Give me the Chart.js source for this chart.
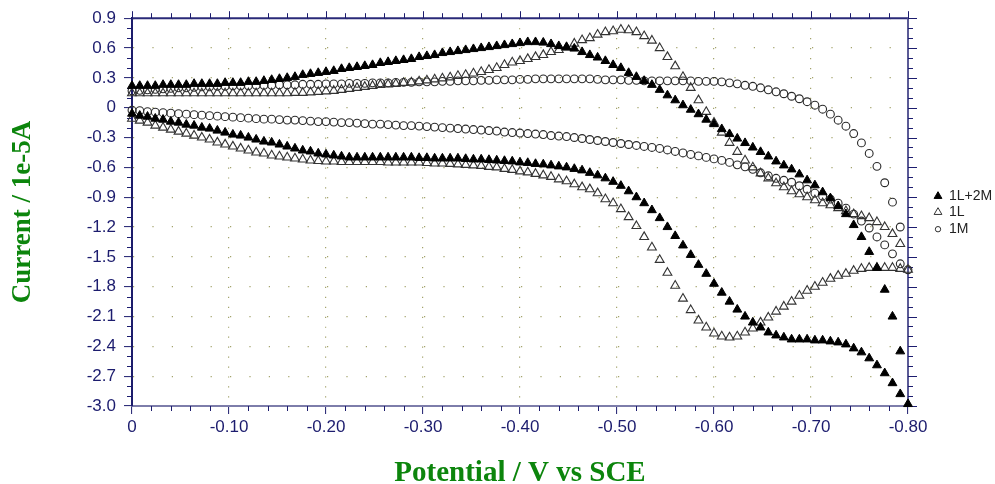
<!DOCTYPE html>
<html><head><meta charset="utf-8">
<script src="https://cdn.jsdelivr.net/npm/chart.js@4.4.1/dist/chart.umd.min.js"></script>
<style>html,body{margin:0;padding:0;background:#fff;}canvas{display:block;}</style>
</head><body>
<canvas id="c" width="995" height="484"></canvas>
<script>
// Potential (V vs SCE) of each sample
const potentials = [0,-0.008,-0.016,-0.024,-0.032,-0.04,-0.048,-0.056,-0.064,-0.072,
-0.08,-0.088,-0.096,-0.104,-0.112,-0.12,-0.128,-0.136,-0.144,-0.152,
-0.16,-0.168,-0.176,-0.184,-0.192,-0.2,-0.208,-0.216,-0.224,-0.232,
-0.24,-0.248,-0.256,-0.264,-0.272,-0.28,-0.288,-0.296,-0.304,-0.312,
-0.32,-0.328,-0.336,-0.344,-0.352,-0.36,-0.368,-0.376,-0.384,-0.392,
-0.4,-0.408,-0.416,-0.424,-0.432,-0.44,-0.448,-0.456,-0.464,-0.472,
-0.48,-0.488,-0.496,-0.504,-0.512,-0.52,-0.528,-0.536,-0.544,-0.552,
-0.56,-0.568,-0.576,-0.584,-0.592,-0.6,-0.608,-0.616,-0.624,-0.632,
-0.64,-0.648,-0.656,-0.664,-0.672,-0.68,-0.688,-0.696,-0.704,-0.712,
-0.72,-0.728,-0.736,-0.744,-0.752,-0.76,-0.768,-0.776,-0.784,-0.792,
-0.8];

// 1L+2M : cathodic (forward) sweep and anodic (reverse) sweep, current / 1e-5 A
const iL2M_fwd = [-0.06,-0.08,-0.09,-0.11,-0.12,-0.14,-0.15,-0.17,-0.18,-0.20,
-0.21,-0.23,-0.25,-0.27,-0.28,-0.30,-0.32,-0.34,-0.35,-0.37,
-0.39,-0.41,-0.43,-0.44,-0.46,-0.47,-0.48,-0.49,-0.50,-0.50,
-0.50,-0.50,-0.50,-0.50,-0.50,-0.50,-0.50,-0.505,-0.505,-0.51,
-0.51,-0.51,-0.51,-0.515,-0.52,-0.52,-0.525,-0.53,-0.535,-0.54,
-0.55,-0.555,-0.565,-0.57,-0.58,-0.59,-0.60,-0.615,-0.63,-0.655,
-0.68,-0.71,-0.745,-0.785,-0.84,-0.90,-0.96,-1.03,-1.11,-1.20,
-1.29,-1.385,-1.48,-1.58,-1.67,-1.77,-1.86,-1.95,-2.03,-2.10,
-2.16,-2.21,-2.26,-2.29,-2.31,-2.33,-2.33,-2.33,-2.34,-2.34,
-2.35,-2.36,-2.38,-2.42,-2.46,-2.52,-2.59,-2.67,-2.77,-2.88,
-2.98];
const iL2M_rev = [0.22,0.22,0.22,0.22,0.23,0.23,0.23,0.23,0.24,0.24,
0.24,0.24,0.25,0.25,0.25,0.26,0.26,0.27,0.28,0.29,
0.30,0.31,0.33,0.34,0.35,0.36,0.37,0.39,0.40,0.41,
0.42,0.43,0.45,0.46,0.47,0.48,0.49,0.51,0.52,0.53,
0.55,0.56,0.57,0.58,0.59,0.60,0.61,0.62,0.63,0.64,
0.65,0.66,0.66,0.655,0.64,0.62,0.61,0.595,0.56,0.53,
0.505,0.47,0.43,0.40,0.35,0.31,0.27,0.23,0.18,0.125,
0.075,0.025,-0.02,-0.065,-0.12,-0.165,-0.215,-0.265,-0.31,-0.355,
-0.40,-0.445,-0.49,-0.54,-0.58,-0.62,-0.67,-0.73,-0.78,-0.85,
-0.91,-0.99,-1.07,-1.18,-1.30,-1.45,-1.61,-1.83,-2.10,-2.45];

// 1L
const iL_fwd = [-0.11,-0.13,-0.15,-0.18,-0.20,-0.22,-0.24,-0.26,-0.28,-0.30,
-0.32,-0.35,-0.37,-0.39,-0.41,-0.43,-0.45,-0.46,-0.48,-0.49,
-0.50,-0.51,-0.52,-0.53,-0.535,-0.54,-0.54,-0.545,-0.545,-0.545,
-0.545,-0.545,-0.545,-0.55,-0.55,-0.55,-0.55,-0.55,-0.555,-0.56,
-0.56,-0.565,-0.57,-0.575,-0.58,-0.585,-0.595,-0.60,-0.615,-0.625,
-0.64,-0.65,-0.665,-0.68,-0.695,-0.72,-0.74,-0.77,-0.80,-0.82,
-0.86,-0.92,-0.96,-1.02,-1.10,-1.19,-1.30,-1.405,-1.53,-1.66,
-1.79,-1.92,-2.035,-2.14,-2.21,-2.27,-2.30,-2.31,-2.30,-2.26,
-2.22,-2.16,-2.11,-2.05,-2.00,-1.95,-1.89,-1.84,-1.80,-1.76,
-1.72,-1.69,-1.67,-1.64,-1.62,-1.61,-1.61,-1.61,-1.61,-1.62,
-1.63];
const iL_rev = [0.145,0.145,0.145,0.145,0.145,0.145,0.145,0.145,0.145,0.145,
0.145,0.145,0.145,0.145,0.145,0.145,0.145,0.145,0.145,0.145,
0.145,0.15,0.15,0.155,0.16,0.165,0.17,0.18,0.19,0.20,
0.21,0.22,0.23,0.235,0.24,0.25,0.255,0.265,0.275,0.285,
0.295,0.305,0.32,0.33,0.345,0.36,0.38,0.40,0.43,0.455,
0.47,0.49,0.51,0.53,0.56,0.58,0.605,0.645,0.68,0.70,
0.735,0.76,0.77,0.785,0.78,0.76,0.72,0.675,0.60,0.51,
0.417,0.31,0.20,0.075,-0.042,-0.15,-0.25,-0.353,-0.444,-0.53,
-0.60,-0.66,-0.71,-0.76,-0.80,-0.84,-0.87,-0.90,-0.93,-0.96,
-0.98,-1.01,-1.04,-1.07,-1.09,-1.11,-1.15,-1.20,-1.27,-1.37];

// 1M
const iM_fwd = [-0.025,-0.03,-0.04,-0.045,-0.05,-0.055,-0.06,-0.065,-0.07,-0.075,
-0.08,-0.085,-0.09,-0.095,-0.10,-0.105,-0.11,-0.115,-0.115,-0.12,
-0.125,-0.125,-0.13,-0.135,-0.14,-0.14,-0.145,-0.15,-0.15,-0.155,
-0.16,-0.165,-0.165,-0.17,-0.175,-0.18,-0.18,-0.185,-0.19,-0.195,
-0.20,-0.205,-0.21,-0.215,-0.22,-0.225,-0.23,-0.235,-0.245,-0.25,
-0.255,-0.26,-0.265,-0.27,-0.28,-0.285,-0.29,-0.30,-0.31,-0.32,
-0.33,-0.34,-0.35,-0.36,-0.37,-0.38,-0.39,-0.40,-0.41,-0.425,
-0.44,-0.455,-0.47,-0.485,-0.50,-0.515,-0.53,-0.55,-0.575,-0.595,
-0.62,-0.655,-0.685,-0.71,-0.73,-0.75,-0.785,-0.82,-0.86,-0.89,
-0.92,-0.96,-1.01,-1.07,-1.14,-1.21,-1.30,-1.38,-1.47,-1.57,
-1.63];
const iM_rev = [0.17,0.175,0.18,0.185,0.19,0.195,0.20,0.20,0.205,0.21,
0.21,0.215,0.215,0.22,0.22,0.22,0.225,0.225,0.225,0.23,
0.23,0.23,0.235,0.235,0.235,0.24,0.24,0.24,0.245,0.245,
0.245,0.25,0.25,0.25,0.255,0.255,0.255,0.26,0.26,0.26,
0.265,0.265,0.27,0.27,0.27,0.275,0.275,0.28,0.28,0.28,
0.285,0.285,0.29,0.29,0.29,0.29,0.29,0.29,0.29,0.29,
0.285,0.28,0.28,0.28,0.275,0.275,0.27,0.27,0.27,0.27,
0.27,0.27,0.27,0.265,0.265,0.265,0.26,0.25,0.24,0.225,
0.215,0.20,0.18,0.16,0.14,0.115,0.09,0.06,0.025,-0.015,
-0.065,-0.126,-0.186,-0.26,-0.354,-0.46,-0.59,-0.755,-0.95,-1.20];

const seriesNames = ['1L+2M', '1L', '1M'];
const xTickLabels = ['0','-0.10','-0.20','-0.30','-0.40','-0.50','-0.60','-0.70','-0.80'];
const yTickLabels = ['-3.0','-2.7','-2.4','-2.1','-1.8','-1.5','-1.2','-0.9','-0.6','-0.3','0','0.3','0.6','0.9'];
const xTitle = 'Potential / V vs SCE';
const yTitle = 'Current / 1e-5A';

function cvPoints(fwd, rev) {
  const pts = fwd.map((c, i) => ({x: potentials[i], y: c}));
  for (let i = rev.length - 1; i >= 0; i--) pts.push({x: potentials[i], y: rev[i]});
  return pts;
}

const NAVY = '#1c1c6e';
const DOT = '#a3a36c';
const TICK_FONT = {family: "'Liberation Sans', Arial, sans-serif", size: 17};
const TITLE_COLOR = '#0c850c';

const framePlugin = {
  id: 'frame',
  beforeDatasetsDraw(chart) {
    const {ctx, chartArea: a, scales: {x, y}} = chart;
    ctx.save();
    // top and right frame lines
    ctx.lineWidth = 2;
    ctx.strokeStyle = '#2a2a78';
    ctx.beginPath(); ctx.moveTo(a.left, a.top); ctx.lineTo(a.right + 1, a.top); ctx.stroke();
    ctx.strokeStyle = '#5a5a96';
    ctx.beginPath(); ctx.moveTo(a.right, a.top); ctx.lineTo(a.right, a.bottom); ctx.stroke();
    ctx.lineWidth = 1;
    ctx.strokeStyle = NAVY;
    // x minor ticks (bottom) and top ticks
    for (let i = 0; i <= 40; i++) {
      const px = Math.round(x.getPixelForValue(-i * 0.02)) + 0.5;
      const major = i % 5 === 0;
      ctx.beginPath();
      if (!major) { ctx.moveTo(px, a.bottom); ctx.lineTo(px, a.bottom + 5); }
      ctx.moveTo(px, a.top); ctx.lineTo(px, a.top - (major ? 7 : 5));
      ctx.stroke();
    }
    // y minor ticks (left) and right ticks
    for (let j = 0; j <= 39; j++) {
      const py = Math.round(y.getPixelForValue(-3 + j * 0.1)) + 0.5;
      const major = j % 3 === 0;
      ctx.beginPath();
      if (!major) { ctx.moveTo(a.left - 5, py); ctx.lineTo(a.left, py); }
      ctx.moveTo(a.right, py); ctx.lineTo(a.right + (major ? 9 : 5), py);
      ctx.stroke();
    }
    ctx.restore();
  }
};

function tri(ctx, x, y, r) {
  ctx.beginPath();
  ctx.moveTo(x, y - r);
  ctx.lineTo(x + r * 0.866, y + r * 0.5);
  ctx.lineTo(x - r * 0.866, y + r * 0.5);
  ctx.closePath();
}

const legendPlugin = {
  id: 'cvLegend',
  afterDraw(chart) {
    const ctx = chart.ctx;
    const a = chart.chartArea;
    const mx = a.right + 30, tx = a.right + 41;
    const rows = [a.top + 178, a.top + 194, a.top + 211];
    ctx.save();
    ctx.font = "14px 'Liberation Sans', Arial, sans-serif";
    ctx.textBaseline = 'middle';
    ctx.lineWidth = 1;
    tri(ctx, mx, rows[0], 4.5); ctx.fillStyle = '#000'; ctx.fill(); ctx.strokeStyle = '#000'; ctx.stroke();
    tri(ctx, mx, rows[1], 4.5); ctx.strokeStyle = '#333'; ctx.stroke();
    ctx.beginPath(); ctx.arc(mx, rows[2], 2.7, 0, Math.PI * 2); ctx.stroke();
    ctx.fillStyle = '#222';
    seriesNames.forEach((n, i) => ctx.fillText(n, tx, rows[i]));
    ctx.restore();
  }
};

new Chart(document.getElementById('c'), {
  type: 'scatter',
  data: {
    datasets: [
      {label: seriesNames[0], data: cvPoints(iL2M_fwd, iL2M_rev), pointStyle: 'triangle', pointRadius: 5.1,
       pointBackgroundColor: '#000', pointBorderColor: '#000', pointBorderWidth: 1, showLine: false, clip: false},
      {label: seriesNames[1], data: cvPoints(iL_fwd, iL_rev), pointStyle: 'triangle', pointRadius: 5.1,
       pointBackgroundColor: 'rgba(255,255,255,0)', pointBorderColor: '#333', pointBorderWidth: 1.1, showLine: false, clip: false},
      {label: seriesNames[2], data: cvPoints(iM_fwd, iM_rev), pointStyle: 'circle', pointRadius: 3.9,
       pointBackgroundColor: 'rgba(255,255,255,0)', pointBorderColor: '#2a2a2a', pointBorderWidth: 1.1, showLine: false, clip: false}
    ]
  },
  options: {
    responsive: false,
    animation: false,
    devicePixelRatio: 1,
    events: [],
    layout: {padding: {top: 18, right: 87, left: 0, bottom: 0}},
    plugins: {legend: {display: false}, tooltip: {enabled: false}},
    scales: {
      x: {
        type: 'linear', position: 'bottom', min: -0.8, max: 0, reverse: true,
        afterFit(s) { s.height = 78; },
        ticks: {stepSize: 0.1, autoSkip: false, maxRotation: 0, color: NAVY, font: TICK_FONT, padding: 3,
          callback: (v) => xTickLabels[Math.round(-v * 10)]},
        grid: {color: DOT, lineWidth: 1.2, tickLength: 8, tickColor: NAVY, tickWidth: 1},
        border: {display: true, color: '#7d7daa', width: 2, dash: [1.2, 8.75]},
        title: {display: true, text: xTitle, color: TITLE_COLOR,
          font: {family: "'Liberation Serif', 'Times New Roman', serif", size: 29, weight: 'bold', lineHeight: '20px'},
          padding: {top: 0, bottom: 0}}
      },
      y: {
        type: 'linear', position: 'left', min: -3, max: 0.9,
        afterFit(s) { s.width = 132; },
        ticks: {stepSize: 0.3, autoSkip: false, color: NAVY, font: TICK_FONT, padding: 8,
          callback: (v) => yTickLabels[Math.round((v + 3) / 0.3)]},
        grid: {color: DOT, lineWidth: 1.2, tickLength: 8, tickColor: NAVY, tickWidth: 1},
        border: {display: true, color: '#1c1c6c', width: 2, dash: [1.2, 18.2]},
        title: {display: true, text: yTitle, color: TITLE_COLOR,
          font: {family: "'Liberation Serif', 'Times New Roman', serif", size: 27, weight: 'bold', lineHeight: '20px'},
          padding: {top: 13, bottom: 0}}
      }
    }
  },
  plugins: [framePlugin, legendPlugin]
});
</script>
</body></html>
